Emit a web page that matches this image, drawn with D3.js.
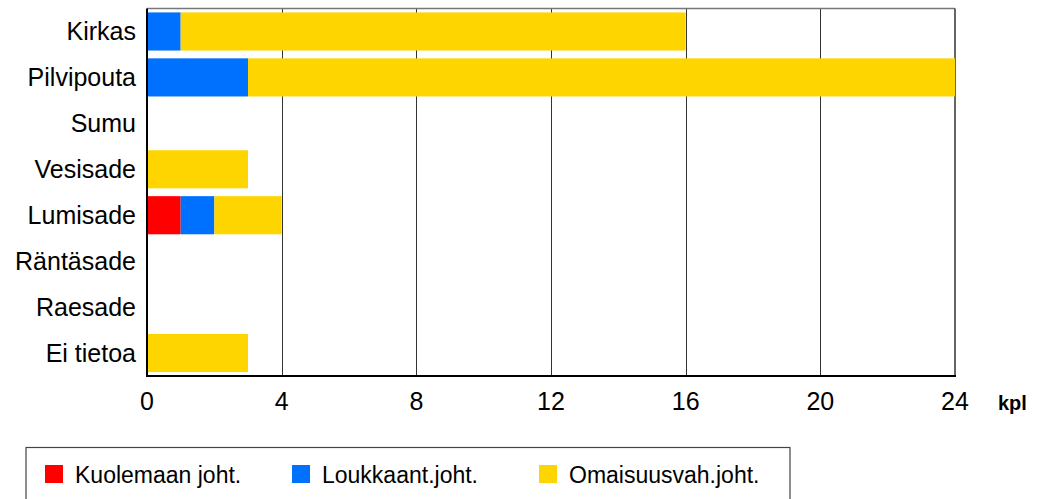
<!DOCTYPE html>
<html>
<head>
<meta charset="utf-8">
<script src="https://cdn.jsdelivr.net/npm/d3@7"></script>
<style>
  body { margin: 0; background: #fff; }
  text { font-family: "Liberation Sans", Arial, sans-serif; fill: #000; }
</style>
</head>
<body>
<div id="chart"></div>
<script>
// categories and values (kpl)
const categories = ["Kirkas", "Pilvipouta", "Sumu", "Vesisade", "Lumisade", "Räntäsade", "Raesade", "Ei tietoa"];
const kuolemaan = [0, 0, 0, 0, 1, 0, 0, 0];
const loukkaant = [1, 3, 0, 0, 1, 0, 0, 0];
const omaisuus = [15, 21, 0, 3, 2, 0, 0, 3];
const seriesNames = ["Kuolemaan joht.", "Loukkaant.joht.", "Omaisuusvah.joht."];
const seriesColors = ["#ff0000", "#0070ff", "#ffd500"];
const xTicks = [0, 4, 8, 12, 16, 20, 24];

const width = 1045, height = 499;
const svg = d3.select("#chart").append("svg").attr("width", width).attr("height", height);

const plotLeft = 147, plotRight = 955, plotTop = 8.5, plotBottom = 376;

const x = d3.scaleLinear().domain([0, 24]).range([plotLeft, plotRight]);
const y = d3.scaleBand().domain(categories).range([plotTop, plotBottom]).paddingInner(0.17).paddingOuter(0.085);

// table for stacking
const rows = categories.map((c, i) => ({ cat: c, k: kuolemaan[i], l: loukkaant[i], o: omaisuus[i] }));
const stack = d3.stack().keys(["k", "l", "o"]);
const layers = stack(rows);

// gridlines
svg.append("g").selectAll("line").data(xTicks.slice(1, -1)).join("line")
  .attr("x1", d => Math.round(x(d)) + 0.5).attr("x2", d => Math.round(x(d)) + 0.5)
  .attr("y1", plotTop).attr("y2", plotBottom)
  .attr("stroke", "#333").attr("stroke-width", 1);

// top and right border
svg.append("line").attr("x1", plotLeft).attr("x2", plotRight).attr("y1", plotTop).attr("y2", plotTop)
  .attr("stroke", "#777").attr("stroke-width", 1.5);
svg.append("line").attr("x1", plotRight).attr("x2", plotRight).attr("y1", plotTop).attr("y2", plotBottom)
  .attr("stroke", "#333").attr("stroke-width", 1.5);

// bars
svg.append("g").selectAll("g").data(layers).join("g")
  .attr("fill", (d, i) => seriesColors[i])
  .selectAll("rect").data(d => d).join("rect")
  .attr("x", d => x(d[0]))
  .attr("y", d => y(d.data.cat))
  .attr("width", d => x(d[1]) - x(d[0]))
  .attr("height", y.bandwidth());

// axes
svg.append("line").attr("x1", plotLeft).attr("x2", plotLeft).attr("y1", plotTop).attr("y2", plotBottom + 1)
  .attr("stroke", "#000").attr("stroke-width", 2);
svg.append("line").attr("x1", plotLeft - 1).attr("x2", plotRight + 1).attr("y1", plotBottom).attr("y2", plotBottom)
  .attr("stroke", "#000").attr("stroke-width", 2);

// category labels
svg.append("g").selectAll("text").data(categories).join("text")
  .attr("x", 136)
  .attr("y", d => y(d) + y.bandwidth() / 2 + 9)
  .attr("text-anchor", "end")
  .attr("font-size", 25)
  .text(d => d);

// tick labels
svg.append("g").selectAll("text").data(xTicks).join("text")
  .attr("x", d => x(d))
  .attr("y", 410)
  .attr("text-anchor", "middle")
  .attr("font-size", 25)
  .text(d => d);

svg.append("text").attr("x", 998).attr("y", 410)
  .attr("font-size", 20).attr("font-weight", "bold").text("kpl");

// legend
svg.append("rect").attr("x", 26).attr("y", 447.5).attr("width", 764).attr("height", 60)
  .attr("fill", "none").attr("stroke", "#444").attr("stroke-width", 1.2);
const legX = [45, 292, 539];
const lg = svg.append("g").selectAll("g").data(seriesNames).join("g")
  .attr("transform", (d, i) => `translate(${legX[i]},465)`);
lg.append("rect").attr("width", 18).attr("height", 18).attr("fill", (d, i) => seriesColors[i]);
lg.append("text").attr("x", 30).attr("y", 18).attr("font-size", 23).text(d => d);
</script>
</body>
</html>
